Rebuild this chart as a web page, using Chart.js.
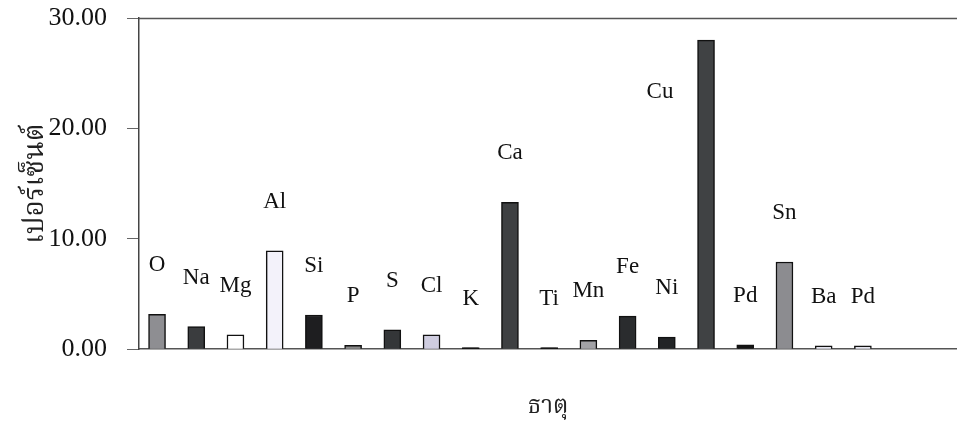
<!DOCTYPE html>
<html>
<head>
<meta charset="utf-8">
<script src="https://cdn.jsdelivr.net/npm/chart.js@4"></script>
<style>
  html, body { margin: 0; padding: 0; background: #ffffff; }
  #wrap { width: 957px; height: 423px; position: relative; }
</style>
</head>
<body>
<div id="wrap"><canvas id="c"></canvas></div>
<script>
// ---- data ----
const elements = ['O','Na','Mg','Al','Si','P','S','Cl','K','Ca','Ti','Mn','Fe','Ni','Cu','Pd','Sn','Ba','Pd'];
const percents = [3.15, 2.05, 1.3, 8.9, 3.1, 0.35, 1.75, 1.3, 0.15, 13.3, 0.15, 0.8, 3.0, 1.1, 28.0, 0.4, 7.9, 0.3, 0.3];
const barColors = ['#8e8e92','#3a3c3e','#ffffff','#f3f2fa','#1e1e20','#8a8a8a','#343638','#cfcde0','#141414','#3e4042','#161616','#a2a2a6','#2a2c2e','#222426','#404244','#141414','#8c8c90','#e6e6f0','#e6e6f0'];
const yTicks = [0, 10, 20, 30];
const yTitle = 'เปอร์เซ็นต์';
const xTitle = 'ธาตุ';

const points = percents.map((v, i) => ({ x: i, y: v }));

const serif = "'Liberation Serif', 'DejaVu Serif', serif";
const thaiFont = "'Noto Serif Thai', 'Noto Sans Thai', 'Loma', 'Garuda', 'DejaVu Sans', 'Noto Sans', sans-serif";

const frameAndLabels = {
  id: 'frameAndLabels',
  afterDatasetsDraw(chart) {
    const { ctx, chartArea } = chart;
    ctx.save();
    ctx.strokeStyle = '#555';
    ctx.lineWidth = 1.5;
    ctx.beginPath();
    ctx.moveTo(chartArea.left, chartArea.top + 0.5);
    ctx.lineTo(chartArea.right, chartArea.top + 0.5);
    ctx.stroke();
    const meta = chart.getDatasetMeta(0);
    ctx.font = "23px " + serif;
    ctx.fillStyle = '#111';
    ctx.textAlign = 'center';
    ctx.textBaseline = 'middle';
    const shift = { 14: { dx: -46, dy: 101 } };
    meta.data.forEach((bar, i) => {
      const s = shift[i] || { dx: 0, dy: 0 };
      ctx.fillText(elements[i], bar.x + s.dx, bar.y - 49 + s.dy);
    });
    ctx.restore();
  }
};

new Chart(document.getElementById('c'), {
  type: 'bar',
  data: {
    datasets: [{
      data: points,
      backgroundColor: barColors,
      borderColor: '#111',
      borderWidth: 1.5,
      barThickness: 17
    }]
  },
  options: {
    responsive: true,
    maintainAspectRatio: false,
    animation: false,
    layout: { padding: { top: 18, right: 0, bottom: 0, left: 0 } },
    plugins: { legend: { display: false }, tooltip: { enabled: false } },
    scales: {
      x: {
        type: 'linear',
        offset: false,
        bounds: 'data',
        min: -0.46,
        max: 20.4,
        grid: { display: false },
        border: { display: true, color: '#555', width: 1.5 },
        ticks: { display: false },
        title: {
          display: true,
          text: xTitle,
          font: { family: thaiFont, size: 24 },
          color: '#222',
          padding: { top: 37, bottom: 0 }
        }
      },
      y: {
        min: 0,
        max: 30,
        afterBuildTicks(scale) { scale.ticks = yTicks.map(v => ({ value: v })); },
        afterFit(scale) { scale.width = 139; scale.paddingTop = 0; scale.paddingBottom = 0; },
        grid: { drawOnChartArea: false, drawTicks: true, tickLength: 12, color: '#666', lineWidth: 1 },
        border: { display: true, color: '#444', width: 1.5 },
        ticks: {
          padding: 20,
          color: '#111',
          font: { family: serif, size: 26 },
          callback: v => Number(v).toFixed(2)
        },
        title: {
          display: true,
          text: yTitle,
          font: { family: thaiFont, size: 28 },
          color: '#222',
          padding: { top: 22, bottom: 0 }
        }
      }
    }
  },
  plugins: [frameAndLabels]
});
</script>
</body>
</html>
